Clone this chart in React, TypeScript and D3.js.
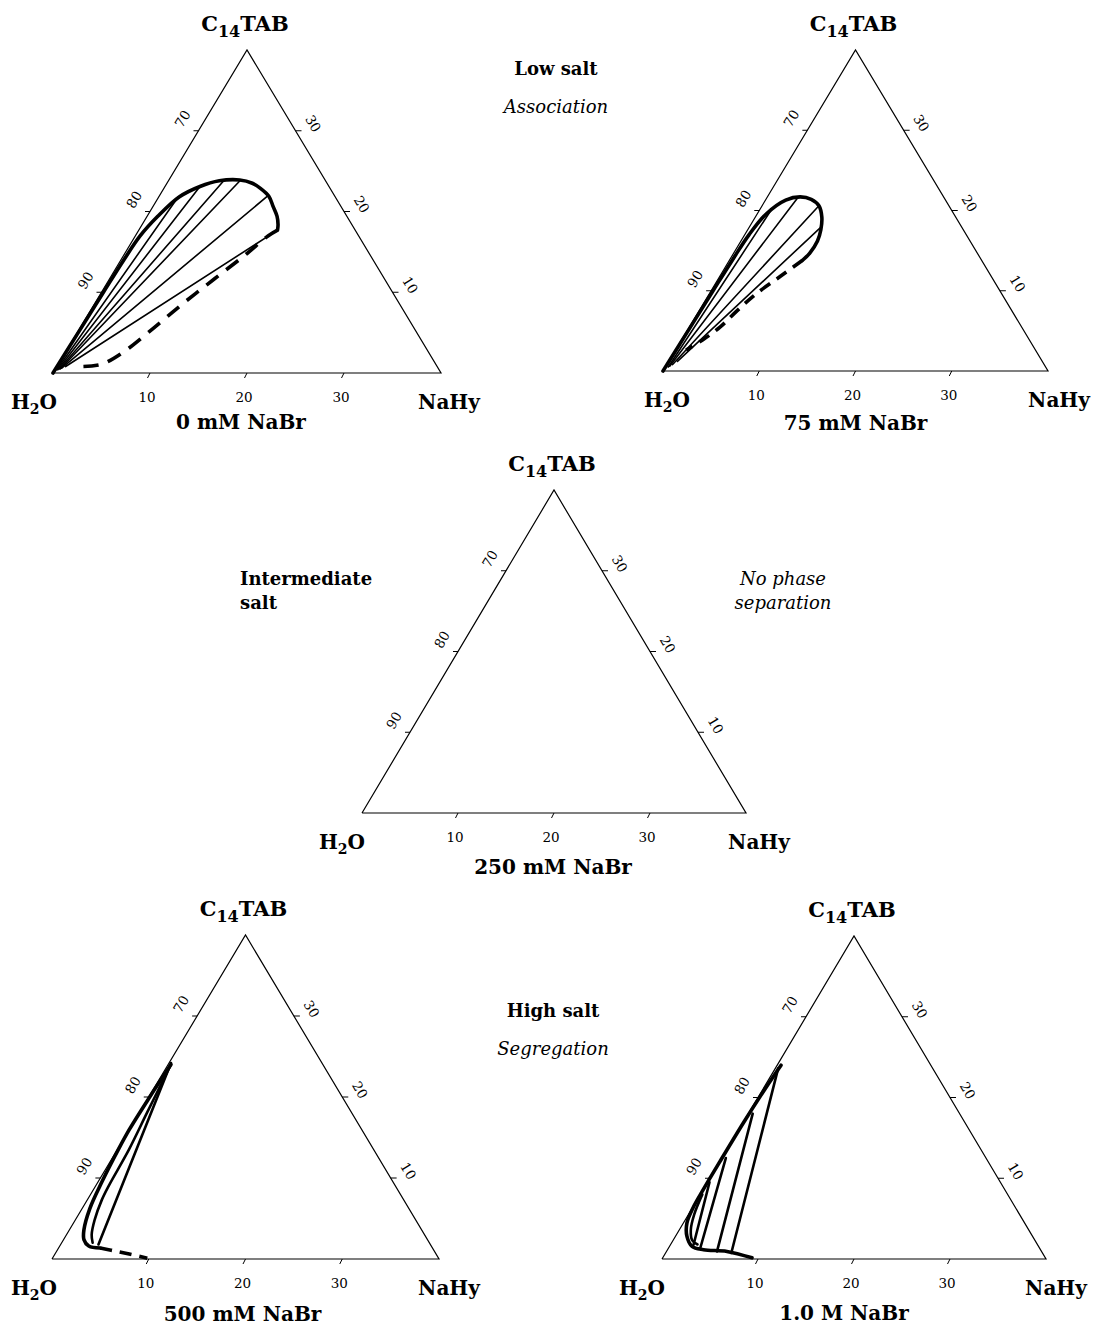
import React from 'react';
import * as d3 from 'd3';

// compositions are [NaHy %, C14TAB %]; water is the remainder
const bottomTicks = [10, 20, 30]; // NaHy
const leftTicks = [90, 80, 70]; // H2O
const rightTicks = [10, 20, 30]; // C14TAB

const salts = ['0 mM NaBr', '75 mM NaBr', '250 mM NaBr', '500 mM NaBr', '1.0 M NaBr'];

// 0 mM NaBr
const binodal0 = [[0, 0], [0.1, 5], [0.2, 10], [0.3, 14], [0.5, 17], [1.1, 19.4], [2.1, 21.8], [3.6, 23.1], [5.25, 23.8], [7.3, 23.9], [8.8, 23.5], [9.9, 22.9], [11.3, 21.9], [12.4, 20.6], [13.4, 19.4], [14.0, 18.4], [14.3, 17.7]];
const dashed0 = [[14.3, 17.7], [13.7, 17.0], [12.5, 14.6], [10.84, 11.7], [9.15, 8.7], [7.6, 5.6], [5.9, 2.5], [4.5, 1.1], [2.7, 0.8]];
const ties0 = [
	[[0.2, 0.4], [2.0, 21.8]],
	[[0.3, 0.4], [3.6, 23.1]],
	[[0.4, 0.5], [5.7, 23.8]],
	[[0.5, 0.5], [7.4, 23.9]],
	[[0.6, 0.6], [11.2, 22.0]],
	[[0.9, 0.8], [14.3, 17.7]]
];

// 75 mM NaBr
const binodal75 = [[0, 0], [0.1, 5], [0.2, 10], [0.3, 14], [0.45, 17.0], [0.95, 19.6], [2.1, 21.3], [3.4, 21.7], [4.7, 21.4], [5.9, 20.6], [6.9, 19.2], [7.6, 17.6], [7.95, 16.2], [7.9, 14.7], [7.6, 13.8]];
const dashed75 = [[7.6, 13.8], [6.3, 11.8], [4.8, 9.5], [3.9, 7.4], [3.2, 5.5], [2.2, 3.9], [1.1, 2.6]];
const ties75 = [
	[[0.3, 0.5], [1.2, 20.0]],
	[[0.4, 0.6], [3.2, 21.6]],
	[[0.6, 0.8], [5.9, 20.6]],
	[[0.9, 1.2], [7.4, 17.8]]
];

// 500 mM NaBr
const binodal500 = [[0.3, 24.0], [0.1, 20], [0.0, 16], [0.1, 13.5], [0.4, 9.5], [0.8, 6.2], [1.5, 3.6], [2.1, 2.4], [3.0, 1.6], [4.3, 1.35]];
const dashed500 = [[4.3, 1.35], [6.25, 0.94], [9.8, 0.1]];
const ties500 = [
	[[0.2, 24.2], [3.9, 1.8]],
	[[0.3, 23.8], [0.8, 18], [1.2, 13.5], [1.35, 9], [1.5, 7.3], [2.0, 4.8], [2.6, 3.0], [3.2, 2.0]]
];

// 1.0 M NaBr
const binodal1000 = [[0.4, 24.0], [0.2, 21], [0.05, 17], [0, 12], [0, 8.5], [0.05, 6.5], [0.37, 4.45], [1.2, 2.8], [2.35, 1.56], [3.75, 1.15], [6.3, 0.94], [9.3, 0.15]];
const ties1000 = [
	[[0.3, 23.6], [6.85, 0.74]],
	[[0.45, 18.0], [5.26, 0.94]],
	[[0.4, 12.5], [3.31, 1.36]],
	[[0.2, 9.5], [2.4, 1.77]],
	[[0.2, 8.0], [0.6, 5.5], [1.2, 3.6], [2.0, 2.3], [2.8, 1.8]]
];

const panels = [
	{ salt: salts[0], x0: 53, y0: 373, w: 388, h: 323, binodal: binodal0, dashed: dashed0, ties: ties0, tieW: 1.6, dash: '15 10', h2oDx: -19, nahyDx: 8, saltDx: -6, saltDy: 56 },
	{ salt: salts[1], x0: 663, y0: 371, w: 385, h: 321, binodal: binodal75, dashed: dashed75, ties: ties75, tieW: 1.6, dash: '12 8', h2oDx: 4, nahyDx: 11, saltDx: 0, saltDy: 59 },
	{ salt: salts[2], x0: 362, y0: 813, w: 384, h: 323, binodal: null, dashed: null, ties: [], tieW: 1.6, dash: '', h2oDx: -20, nahyDx: 13, saltDx: -1, saltDy: 61 },
	{ salt: salts[3], x0: 52, y0: 1259, w: 387, h: 324, binodal: binodal500, dashed: dashed500, ties: ties500, tieW: 2.6, dash: '12 8', h2oDx: -18, nahyDx: 10, saltDx: -3, saltDy: 62 },
	{ salt: salts[4], x0: 662, y0: 1259, w: 384, h: 323, binodal: binodal1000, dashed: null, ties: ties1000, tieW: 2.6, dash: '', h2oDx: -20, nahyDx: 10, saltDx: -10, saltDy: 61 }
];

const FONT = '"DejaVu Serif", "Liberation Serif", serif';

const Ternary = ({ p }) => {
	const xs = d3.scaleLinear().domain([0, 40]).range([p.x0, p.x0 + p.w]);
	const ys = d3.scaleLinear().domain([0, 40]).range([p.y0, p.y0 - p.h]);
	const px = (d) => [xs(d[0] + d[1] / 2), ys(d[1])];

	const straight = d3.line().x(d => px(d)[0]).y(d => px(d)[1]);
	const smooth = d3.line().x(d => px(d)[0]).y(d => px(d)[1]).curve(d3.curveCatmullRom.alpha(0.5));

	const A = px([0, 0]);
	const B = px([40, 0]);
	const C = px([0, 40]);

	// edge directions for ticks and rotated labels
	const L = Math.hypot(C[0] - A[0], C[1] - A[1]);
	const up = [(C[0] - A[0]) / L, (C[1] - A[1]) / L];
	const nLeft = [up[1], -up[0]];
	const down = [(B[0] - C[0]) / L, (B[1] - C[1]) / L];
	const nRight = [down[1], -down[0]];
	const angL = Math.atan2(up[1], up[0]) * 180 / Math.PI;
	const angR = Math.atan2(down[1], down[0]) * 180 / Math.PI;

	return (
		<g fontFamily={FONT}>
			<path d={straight([[0, 0], [40, 0], [0, 40], [0, 0]])} fill="none" stroke="black" strokeWidth={1.2} strokeLinejoin="miter" />

			{bottomTicks.map(t => {
				const [x, y] = px([t, 0]);
				return (
					<g key={'b' + t}>
						<line x1={x} y1={y} x2={x - 2.5} y2={y + 5} stroke="black" strokeWidth={1} />
						<text x={x - 3} y={p.y0 + 29} textAnchor="middle" fontSize={13.5}>{t}</text>
					</g>
				);
			})}

			{leftTicks.map(t => {
				const [x, y] = px([0, 100 - t]);
				const lx = x + nLeft[0] * 20 + up[0] * 2;
				const ly = y + nLeft[1] * 20 + up[1] * 2;
				return (
					<g key={'l' + t}>
						<line x1={x} y1={y} x2={x - 5} y2={y} stroke="black" strokeWidth={1} />
						<text x={lx} y={ly} textAnchor="middle" dominantBaseline="central" fontSize={13.5}
							transform={`rotate(${angL},${lx},${ly})`}>{t}</text>
					</g>
				);
			})}

			{rightTicks.map(t => {
				const [x, y] = px([40 - t, t]);
				const lx = x + nRight[0] * 19 + down[0] * 3;
				const ly = y + nRight[1] * 19 + down[1] * 3;
				return (
					<g key={'r' + t}>
						<line x1={x} y1={y} x2={x + 6} y2={y} stroke="black" strokeWidth={1} />
						<text x={lx} y={ly} textAnchor="middle" dominantBaseline="central" fontSize={13.5}
							transform={`rotate(${angR},${lx},${ly})`}>{t}</text>
					</g>
				);
			})}

			{p.ties.map((t, i) => (
				<path key={'t' + i} d={t.length > 2 ? smooth(t) : straight(t)} fill="none" stroke="black"
					strokeWidth={p.tieW} strokeLinecap="round" />
			))}

			{p.binodal && (
				<path d={smooth(p.binodal)} fill="none" stroke="black" strokeWidth={3.6}
					strokeLinecap="round" strokeLinejoin="round" />
			)}
			{p.dashed && (
				<path d={smooth(p.dashed)} fill="none" stroke="black" strokeWidth={3.6}
					strokeDasharray={p.dash} />
			)}

			<text x={C[0] - 2} y={C[1] - 19} textAnchor="middle" fontWeight="bold" fontSize={21}>
				C<tspan fontSize={16} dy={6}>14</tspan><tspan dy={-6}>TAB</tspan>
			</text>
			<text x={A[0] + p.h2oDx} y={p.y0 + 36} textAnchor="middle" fontWeight="bold" fontSize={20}>
				H<tspan fontSize={14} dy={5}>2</tspan><tspan dy={-5}>O</tspan>
			</text>
			<text x={B[0] + p.nahyDx} y={p.y0 + 36} textAnchor="middle" fontWeight="bold" fontSize={20}>NaHy</text>
			<text x={C[0] + p.saltDx} y={p.y0 + p.saltDy} textAnchor="middle" fontWeight="bold" fontSize={20}>{p.salt}</text>
		</g>
	);
};

export default function App() {
	return (
		<div style={{ position: 'absolute', left: 0, top: 0, background: 'white' }}>
			<svg width={1094} height={1326} viewBox="0 0 1094 1326">
				<rect width={1094} height={1326} fill="white" />
				{panels.map((p, i) => <Ternary key={i} p={p} />)}

				<g fontFamily={FONT} fontSize={18}>
					<text x={556} y={75} textAnchor="middle" fontWeight="bold">Low salt</text>
					<text x={556} y={113} textAnchor="middle" fontStyle="italic">Association</text>

					<text x={240} y={585} fontWeight="bold">Intermediate</text>
					<text x={240} y={609} fontWeight="bold">salt</text>
					<text x={783} y={585} textAnchor="middle" fontStyle="italic">No phase</text>
					<text x={783} y={609} textAnchor="middle" fontStyle="italic">separation</text>

					<text x={553} y={1017} textAnchor="middle" fontWeight="bold">High salt</text>
					<text x={553} y={1055} textAnchor="middle" fontStyle="italic">Segregation</text>
				</g>
			</svg>
		</div>
	);
}
